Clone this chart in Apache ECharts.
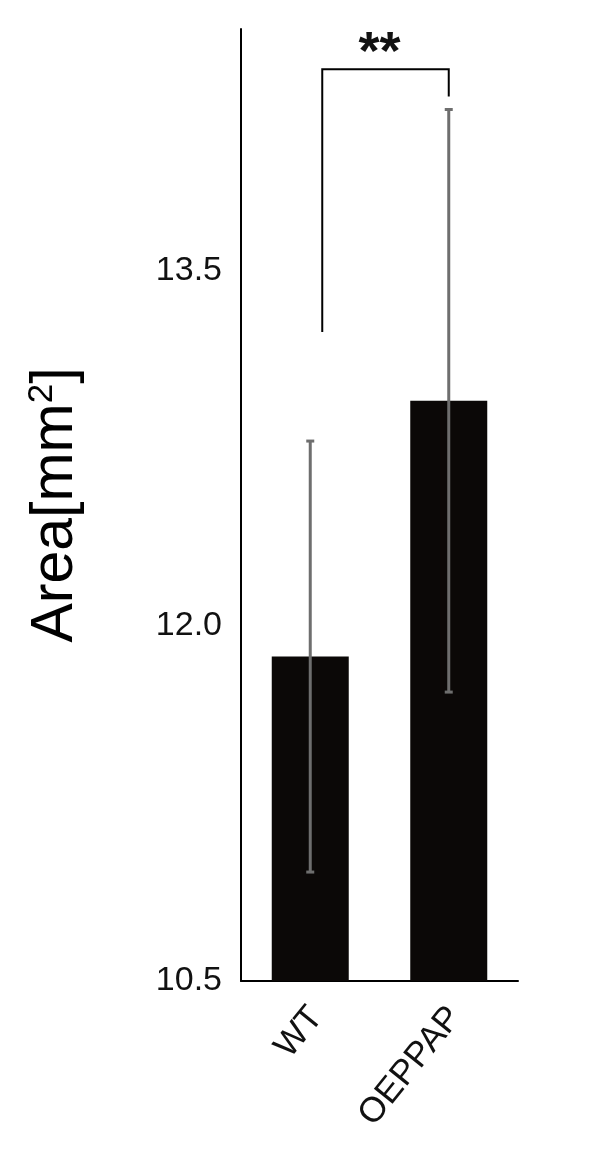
<!DOCTYPE html>
<html>
<head>
<meta charset="utf-8">
<script src="https://cdn.jsdelivr.net/npm/echarts@6/dist/echarts.min.js"></script>
<style>
  html, body { margin: 0; padding: 0; background: #fff; }
  #chart { width: 606px; height: 1156px; }
</style>
</head>
<body>
<div id="chart"></div>
<script>
// data
var categories = ['WT', 'OEPPAP'];
var meanArea = [11.87, 12.95];
var sdArea = [0.91, 1.23];
var yMin = 10.5;
var yMax = 14.52;
var yStep = 1.5;
// significance bracket: leg bottoms (per group), top of bracket, star label
var bracketLegBottom = [13.24, 14.235];
var bracketTop = 14.35;
var sigLabel = '**';
var sigLabelY = 14.53;

var chart = echarts.init(document.getElementById('chart'), null, {renderer: 'canvas'});

var errData = [];
for (let i = 0; i < categories.length; i++) {
    errData.push([i, meanArea[i] - sdArea[i], meanArea[i] + sdArea[i]]);
}

var option = {
    animation: false,
    backgroundColor: '#fff',
    textStyle: {fontFamily: 'Liberation Sans, Arial, sans-serif'},
    grid: {
        left: 241,
        right: 88,
        top: 29,
        bottom: 175,
        outerBoundsMode: 'none'
    },
    xAxis: {
        type: 'category',
        data: categories,
        axisLine: {lineStyle: {color: '#000', width: 2}},
        axisTick: {show: false},
        axisLabel: {
            rotate: 51,
            margin: 38,
            fontSize: 35,
            color: '#111',
            padding: [0, -10, 0, 0],
            fontFamily: 'Liberation Sans'
        }
    },
    yAxis: {
        type: 'value',
        min: yMin,
        max: yMax,
        interval: yStep,
        name: 'Area[mm{sup|2}]',
        nameLocation: 'middle',
        nameRotate: 90,
        nameGap: 154,
        nameTextStyle: {
            fontSize: 59,
            color: '#000',
            fontFamily: 'Liberation Sans',
            lineHeight: 62,
            rich: {
                sup: {fontSize: 35, verticalAlign: 'top', lineHeight: 62, fontFamily: 'Liberation Sans', color: '#000'}
            }
        },
        axisLine: {show: true, lineStyle: {color: '#000', width: 2}},
        axisTick: {show: false},
        splitLine: {show: false},
        axisLabel: {
            showMaxLabel: false,
            margin: 19,
            fontSize: 34,
            color: '#111',
            fontFamily: 'Liberation Sans',
            formatter: function (v) { return v.toFixed(1); }
        }
    },
    series: [
        {
            name: 'Area',
            type: 'bar',
            data: meanArea,
            barWidth: 77,
            itemStyle: {color: '#0b0807'}
        },
        {
            name: 'SD',
            type: 'custom',
            z: 5,
            data: errData,
            renderItem: function (params, api) {
                let x = api.value(0);
                let lo = api.coord([x, api.value(1)]);
                let hi = api.coord([x, api.value(2)]);
                let cap = 4;
                let st = {stroke: '#6e6e6e', lineWidth: 3};
                return {
                    type: 'group',
                    children: [
                        {type: 'line', shape: {x1: lo[0], y1: lo[1], x2: hi[0], y2: hi[1]}, style: st},
                        {type: 'line', shape: {x1: lo[0] - cap, y1: lo[1], x2: lo[0] + cap, y2: lo[1]}, style: st},
                        {type: 'line', shape: {x1: hi[0] - cap, y1: hi[1], x2: hi[0] + cap, y2: hi[1]}, style: st}
                    ]
                };
            }
        },
        {
            name: 'sig',
            type: 'custom',
            z: 6,
            data: [[0, 1]],
            renderItem: function (params, api) {
                let a = api.coord([0, bracketLegBottom[0]]);
                let b = api.coord([1, bracketLegBottom[1]]);
                let ta = api.coord([0, bracketTop]);
                let tl = api.coord([0, sigLabelY]);
                let xl = a[0] + 12;
                let xr = b[0];
                return {
                    type: 'group',
                    children: [
                        {
                            type: 'polyline',
                            shape: {points: [[xl, a[1]], [xl, ta[1]], [xr, ta[1]], [xr, b[1]]]},
                            style: {stroke: '#000', lineWidth: 2, fill: null}
                        },
                        {
                            type: 'text',
                            style: {
                                text: sigLabel,
                                x: (a[0] + b[0]) / 2,
                                y: tl[1],
                                align: 'center',
                                verticalAlign: 'top',
                                fontSize: 54,
                                fontWeight: 'bold',
                                fontFamily: 'Liberation Sans',
                                fill: '#111'
                            }
                        }
                    ]
                };
            }
        }
    ]
};
chart.setOption(option);
</script>
</body>
</html>
